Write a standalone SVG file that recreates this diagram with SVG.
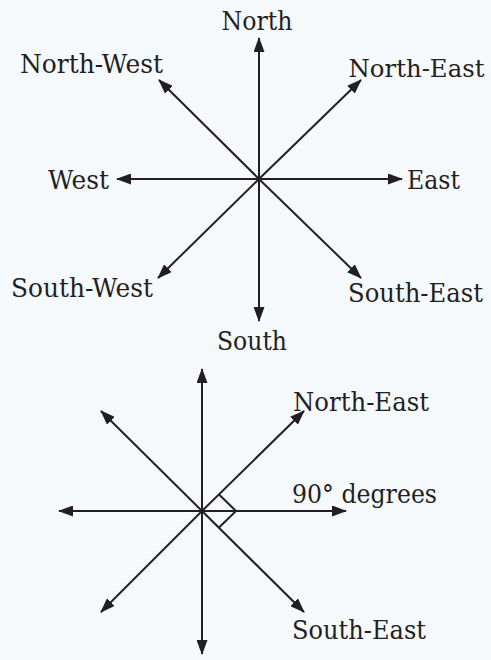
<svg xmlns="http://www.w3.org/2000/svg" width="491" height="660" viewBox="0 0 491 660">
<style>
.lbl{font-family:"DejaVu Serif","Liberation Serif",serif;font-size:26px;fill:#231f20;text-anchor:middle}
.sm{font-size:25px}
.ray{stroke:#231f20;stroke-width:2;fill:none;marker-end:url(#ah)}
</style>
<defs>
<marker id="ah" markerUnits="userSpaceOnUse" markerWidth="15" markerHeight="11" refX="14" refY="5.5" orient="auto">
<path d="M0,0 L15,5.5 L0,11 Z" fill="#231f20"/>
</marker>
</defs>
<rect width="491" height="660" fill="#f6f9fc"/>
<g id="connectors">
<line class="ray" x1="259" y1="179" x2="259" y2="38"/>
<line class="ray" x1="259" y1="179" x2="259" y2="321"/>
<line class="ray" x1="259" y1="179" x2="117" y2="179"/>
<line class="ray" x1="259" y1="179" x2="402" y2="179"/>
<line class="ray" x1="259" y1="179" x2="159" y2="80"/>
<line class="ray" x1="259" y1="179" x2="361" y2="80"/>
<line class="ray" x1="259" y1="179" x2="158" y2="278"/>
<line class="ray" x1="259" y1="179" x2="361" y2="278"/>
<line class="ray" x1="202" y1="511" x2="202" y2="369"/>
<line class="ray" x1="202" y1="511" x2="202" y2="654"/>
<line class="ray" x1="202" y1="511" x2="59" y2="511"/>
<line class="ray" x1="202" y1="511" x2="346" y2="511"/>
<line class="ray" x1="202" y1="511" x2="101" y2="411"/>
<line class="ray" x1="202" y1="511" x2="304" y2="411"/>
<line class="ray" x1="202" y1="511" x2="101" y2="612"/>
<line class="ray" x1="202" y1="511" x2="304" y2="612"/>
<polyline points="219,494.5 236,511 219,527.5" fill="none" stroke="#231f20" stroke-width="2"/>
</g>
<g id="north"><text class="lbl" x="257" y="30" textLength="71" lengthAdjust="spacingAndGlyphs">North</text></g>
<g id="north-west"><text class="lbl" x="91.5" y="73" textLength="143" lengthAdjust="spacingAndGlyphs">North-West</text></g>
<g id="north-east"><text class="lbl sm" x="416.5" y="77" textLength="136" lengthAdjust="spacingAndGlyphs">North-East</text></g>
<g id="west"><text class="lbl" x="78.5" y="189" textLength="61" lengthAdjust="spacingAndGlyphs">West</text></g>
<g id="east"><text class="lbl" x="433.5" y="189" textLength="53" lengthAdjust="spacingAndGlyphs">East</text></g>
<g id="south-west"><text class="lbl" x="82" y="297" textLength="142" lengthAdjust="spacingAndGlyphs">South-West</text></g>
<g id="south-east"><text class="lbl" x="415.5" y="302" textLength="135" lengthAdjust="spacingAndGlyphs">South-East</text></g>
<g id="south"><text class="lbl" x="252" y="350" textLength="70" lengthAdjust="spacingAndGlyphs">South</text></g>
<g id="north-east-2"><text class="lbl" x="361" y="411" textLength="136" lengthAdjust="spacingAndGlyphs">North-East</text></g>
<g id="angle-label"><text class="lbl" x="364.5" y="503" textLength="145" lengthAdjust="spacingAndGlyphs">90° degrees</text></g>
<g id="south-east-2"><text class="lbl" x="359" y="639" textLength="134" lengthAdjust="spacingAndGlyphs">South-East</text></g>
</svg>
